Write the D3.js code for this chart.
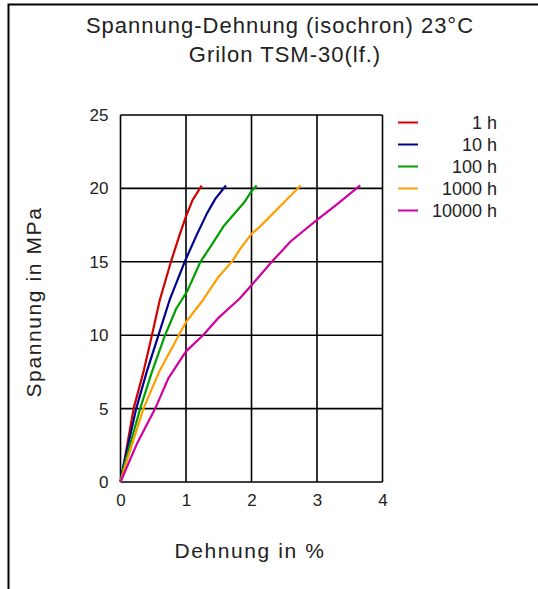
<!DOCTYPE html>
<html lang="de">
<head>
<meta charset="UTF-8">
<title>Spannung-Dehnung (isochron) 23°C</title>
<script src="https://d3js.org/d3.v7.min.js"></script>
<style>
    body { margin: 0; background: #fff; }
    svg { display: block; font-family: "Liberation Sans", Arial, sans-serif; }
</style>
</head>
<body>
<div id="chart"></div>
<script>
    const series = ['1 h', '10 h', '100 h', '1000 h', '10000 h'];
    const colors = ['#d40000', '#00008f', '#00a000', '#ff9e00', '#d000a0'];

    const curve1h = [[0, 0], [0.05, 1.2], [0.2, 5], [0.35, 7.5], [0.48, 10], [0.6, 12.4], [0.77, 15],
        [0.9, 16.8], [1.0, 18.1], [1.1, 19.2], [1.24, 20.2]];
    const curve10h = [[0, 0], [0.05, 1.2], [0.24, 5], [0.4, 7.5], [0.58, 10], [0.75, 12.4], [0.98, 15],
        [1.16, 16.8], [1.32, 18.3], [1.45, 19.3], [1.61, 20.2]];
    const curve100h = [[0, 0], [0.05, 1], [0.3, 5], [0.48, 7.5], [0.68, 10], [0.85, 11.8], [1.02, 13],
        [1.22, 15], [1.37, 16], [1.57, 17.4], [1.88, 19], [2.0, 19.8], [2.08, 20.2]];
    const curve1000h = [[0, 0], [0.1, 1.5], [0.35, 5], [0.6, 7.6], [0.89, 10], [1.0, 10.9], [1.26, 12.4],
        [1.5, 14.0], [1.7, 15], [1.83, 15.9], [2.0, 16.9], [2.13, 17.4], [2.33, 18.3], [2.55, 19.3], [2.75, 20.2]];
    const curve10000h = [[0, 0], [0.25, 2.6], [0.53, 5], [0.73, 7.06], [1.0, 8.9], [1.26, 10], [1.5, 11.2],
        [1.82, 12.5], [2.0, 13.4], [2.31, 15], [2.6, 16.4], [3.0, 17.85], [3.3, 18.9], [3.66, 20.2]];
    const curves = [curve1h, curve10h, curve100h, curve1000h, curve10000h];

    const xTicks = [0, 1, 2, 3, 4];
    const yTicks = [0, 5, 10, 15, 20, 25];

    const width = 538;
    const height = 589;
    const margin = { top: 115, right: 155.5, bottom: 107, left: 120.5 };

    const svg = d3.select('#chart')
        .append('svg')
        .attr('width', width)
        .attr('height', height);

    // Rahmen (nur oben und links sichtbar)
    svg.append('path')
        .attr('d', `M8.5,${height} V4.5 H${width}`)
        .attr('fill', 'none')
        .attr('stroke', '#000')
        .attr('stroke-width', 2);

    const x = d3.scaleLinear()
        .domain([0, 4])
        .range([margin.left, width - margin.right]);

    const y = d3.scaleLinear()
        .domain([0, 25])
        .range([height - margin.bottom, margin.top]);

    // Gitter
    svg.append('g')
        .attr('stroke', '#000')
        .attr('stroke-width', 1.6)
        .call(g => g.selectAll('.vx')
            .data(xTicks)
            .join('line')
            .attr('class', 'vx')
            .attr('x1', d => x(d)).attr('x2', d => x(d))
            .attr('y1', y(0)).attr('y2', y(25)))
        .call(g => g.selectAll('.hy')
            .data(yTicks)
            .join('line')
            .attr('class', 'hy')
            .attr('x1', x(0)).attr('x2', x(4))
            .attr('y1', d => y(d)).attr('y2', d => y(d)));

    // Achsen (nur Beschriftung)
    svg.append('g')
        .attr('transform', `translate(0,${y(0)})`)
        .call(d3.axisBottom(x).tickValues(xTicks).tickFormat(d3.format('d')).tickSize(0).tickPadding(12))
        .call(g => g.select('.domain').remove())
        .call(g => g.selectAll('text')
            .attr('font-family', '"Liberation Sans", Arial, sans-serif')
            .attr('font-size', 17)
            .attr('fill', '#222'));

    svg.append('g')
        .attr('transform', `translate(${x(0)},0)`)
        .call(d3.axisLeft(y).tickValues(yTicks).tickFormat(d3.format('d')).tickSize(0).tickPadding(12))
        .call(g => g.select('.domain').remove())
        .call(g => g.selectAll('text')
            .attr('font-family', '"Liberation Sans", Arial, sans-serif')
            .attr('font-size', 17)
            .attr('fill', '#222'));

    // Kurven
    const line = d3.line()
        .x(d => x(d[0]))
        .y(d => y(d[1]));

    svg.append('g')
        .selectAll('path')
        .data(curves)
        .join('path')
        .attr('d', line)
        .attr('fill', 'none')
        .attr('stroke', (d, i) => colors[i])
        .attr('stroke-width', 2.2)
        .attr('stroke-linejoin', 'round');

    // Legende
    const legend = svg.append('g')
        .selectAll('g')
        .data(series)
        .join('g')
        .attr('transform', (d, i) => `translate(0,${122.5 + i * 22})`);

    legend.append('line')
        .attr('x1', 398).attr('x2', 418)
        .attr('stroke', (d, i) => colors[i])
        .attr('stroke-width', 2);

    legend.append('text')
        .attr('x', 497)
        .attr('dy', '0.35em')
        .attr('text-anchor', 'end')
        .attr('font-size', 18)
        .attr('fill', '#222')
        .text(d => d);

    // Titel
    svg.append('text')
        .attr('x', 280)
        .attr('y', 33)
        .attr('text-anchor', 'middle')
        .attr('font-size', 22)
        .attr('letter-spacing', 1)
        .attr('fill', '#222')
        .text('Spannung-Dehnung (isochron) 23°C');

    svg.append('text')
        .attr('x', 285)
        .attr('y', 62)
        .attr('text-anchor', 'middle')
        .attr('font-size', 22)
        .attr('letter-spacing', 1)
        .attr('fill', '#222')
        .text('Grilon TSM-30(lf.)');

    // Achsentitel
    svg.append('text')
        .attr('x', 250)
        .attr('y', 558)
        .attr('text-anchor', 'middle')
        .attr('font-size', 21)
        .attr('letter-spacing', 1.6)
        .attr('fill', '#222')
        .text('Dehnung in %');

    svg.append('text')
        .attr('transform', 'translate(41,302) rotate(-90)')
        .attr('text-anchor', 'middle')
        .attr('font-size', 21)
        .attr('letter-spacing', 1.6)
        .attr('fill', '#222')
        .text('Spannung in MPa');
</script>
</body>
</html>
